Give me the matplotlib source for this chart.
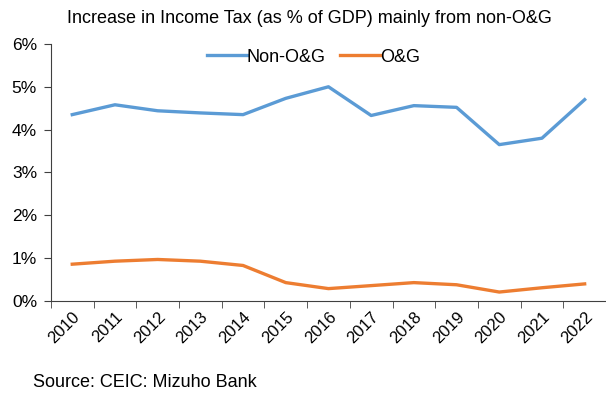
import numpy as np
import matplotlib.pyplot as plt
from matplotlib.ticker import FuncFormatter, FixedLocator

years = ["2010", "2011", "2012", "2013", "2014", "2015", "2016",
         "2017", "2018", "2019", "2020", "2021", "2022"]
non_og = [4.35, 4.58, 4.44, 4.39, 4.35, 4.73, 5.00, 4.33, 4.56, 4.52, 3.65, 3.80, 4.70]
og = [0.86, 0.93, 0.97, 0.93, 0.83, 0.43, 0.29, 0.36, 0.43, 0.38, 0.21, 0.31, 0.40]

plt.rcParams["font.family"] = ["Liberation Sans", "DejaVu Sans"]

fig = plt.figure(figsize=(6.06, 4.03), dpi=100)
ax = fig.add_axes([0.084, 0.253, 0.916, 0.638])

x = np.arange(len(years))
ax.plot(x, non_og, color="#5B9BD5", linewidth=2.4, label="Non-O&G")
ax.plot(x, og, color="#ED7D31", linewidth=2.4, label="O&G")

ax.set_xlim(-0.5, len(years) - 0.5)
ax.set_ylim(0, 6)
ax.set_yticks(range(0, 7))
ax.yaxis.set_major_formatter(FuncFormatter(lambda v, _: f"{v:.0f}%"))
ax.set_xticks(x)
ax.set_xticklabels(years, rotation=45, ha="right", rotation_mode="anchor", fontsize=12)
ax.tick_params(axis="x", length=0, pad=6)
ax.xaxis.set_minor_locator(FixedLocator(np.arange(-0.5, len(years), 1.0)))
ax.tick_params(axis="x", which="minor", length=5, direction="out", color="#404040")
ax.tick_params(axis="y", length=5, labelsize=12.5, color="#404040", pad=5)
ax.spines[["top", "right"]].set_visible(False)
ax.spines["left"].set_color("#404040")
ax.spines["bottom"].set_color("#404040")

ax.legend(loc="center", bbox_to_anchor=(0.473, 0.948), ncol=2, frameon=False,
          fontsize=13, handlelength=2.2, handletextpad=0.0, columnspacing=0.8)

fig.text(0.51, 0.955, "Increase in Income Tax (as % of GDP) mainly from non-O&G",
         ha="center", va="center", fontsize=13)
fig.text(0.055, 0.05, "Source: CEIC: Mizuho Bank", ha="left", va="center", fontsize=13)

fig.savefig("out.png", dpi=100)
